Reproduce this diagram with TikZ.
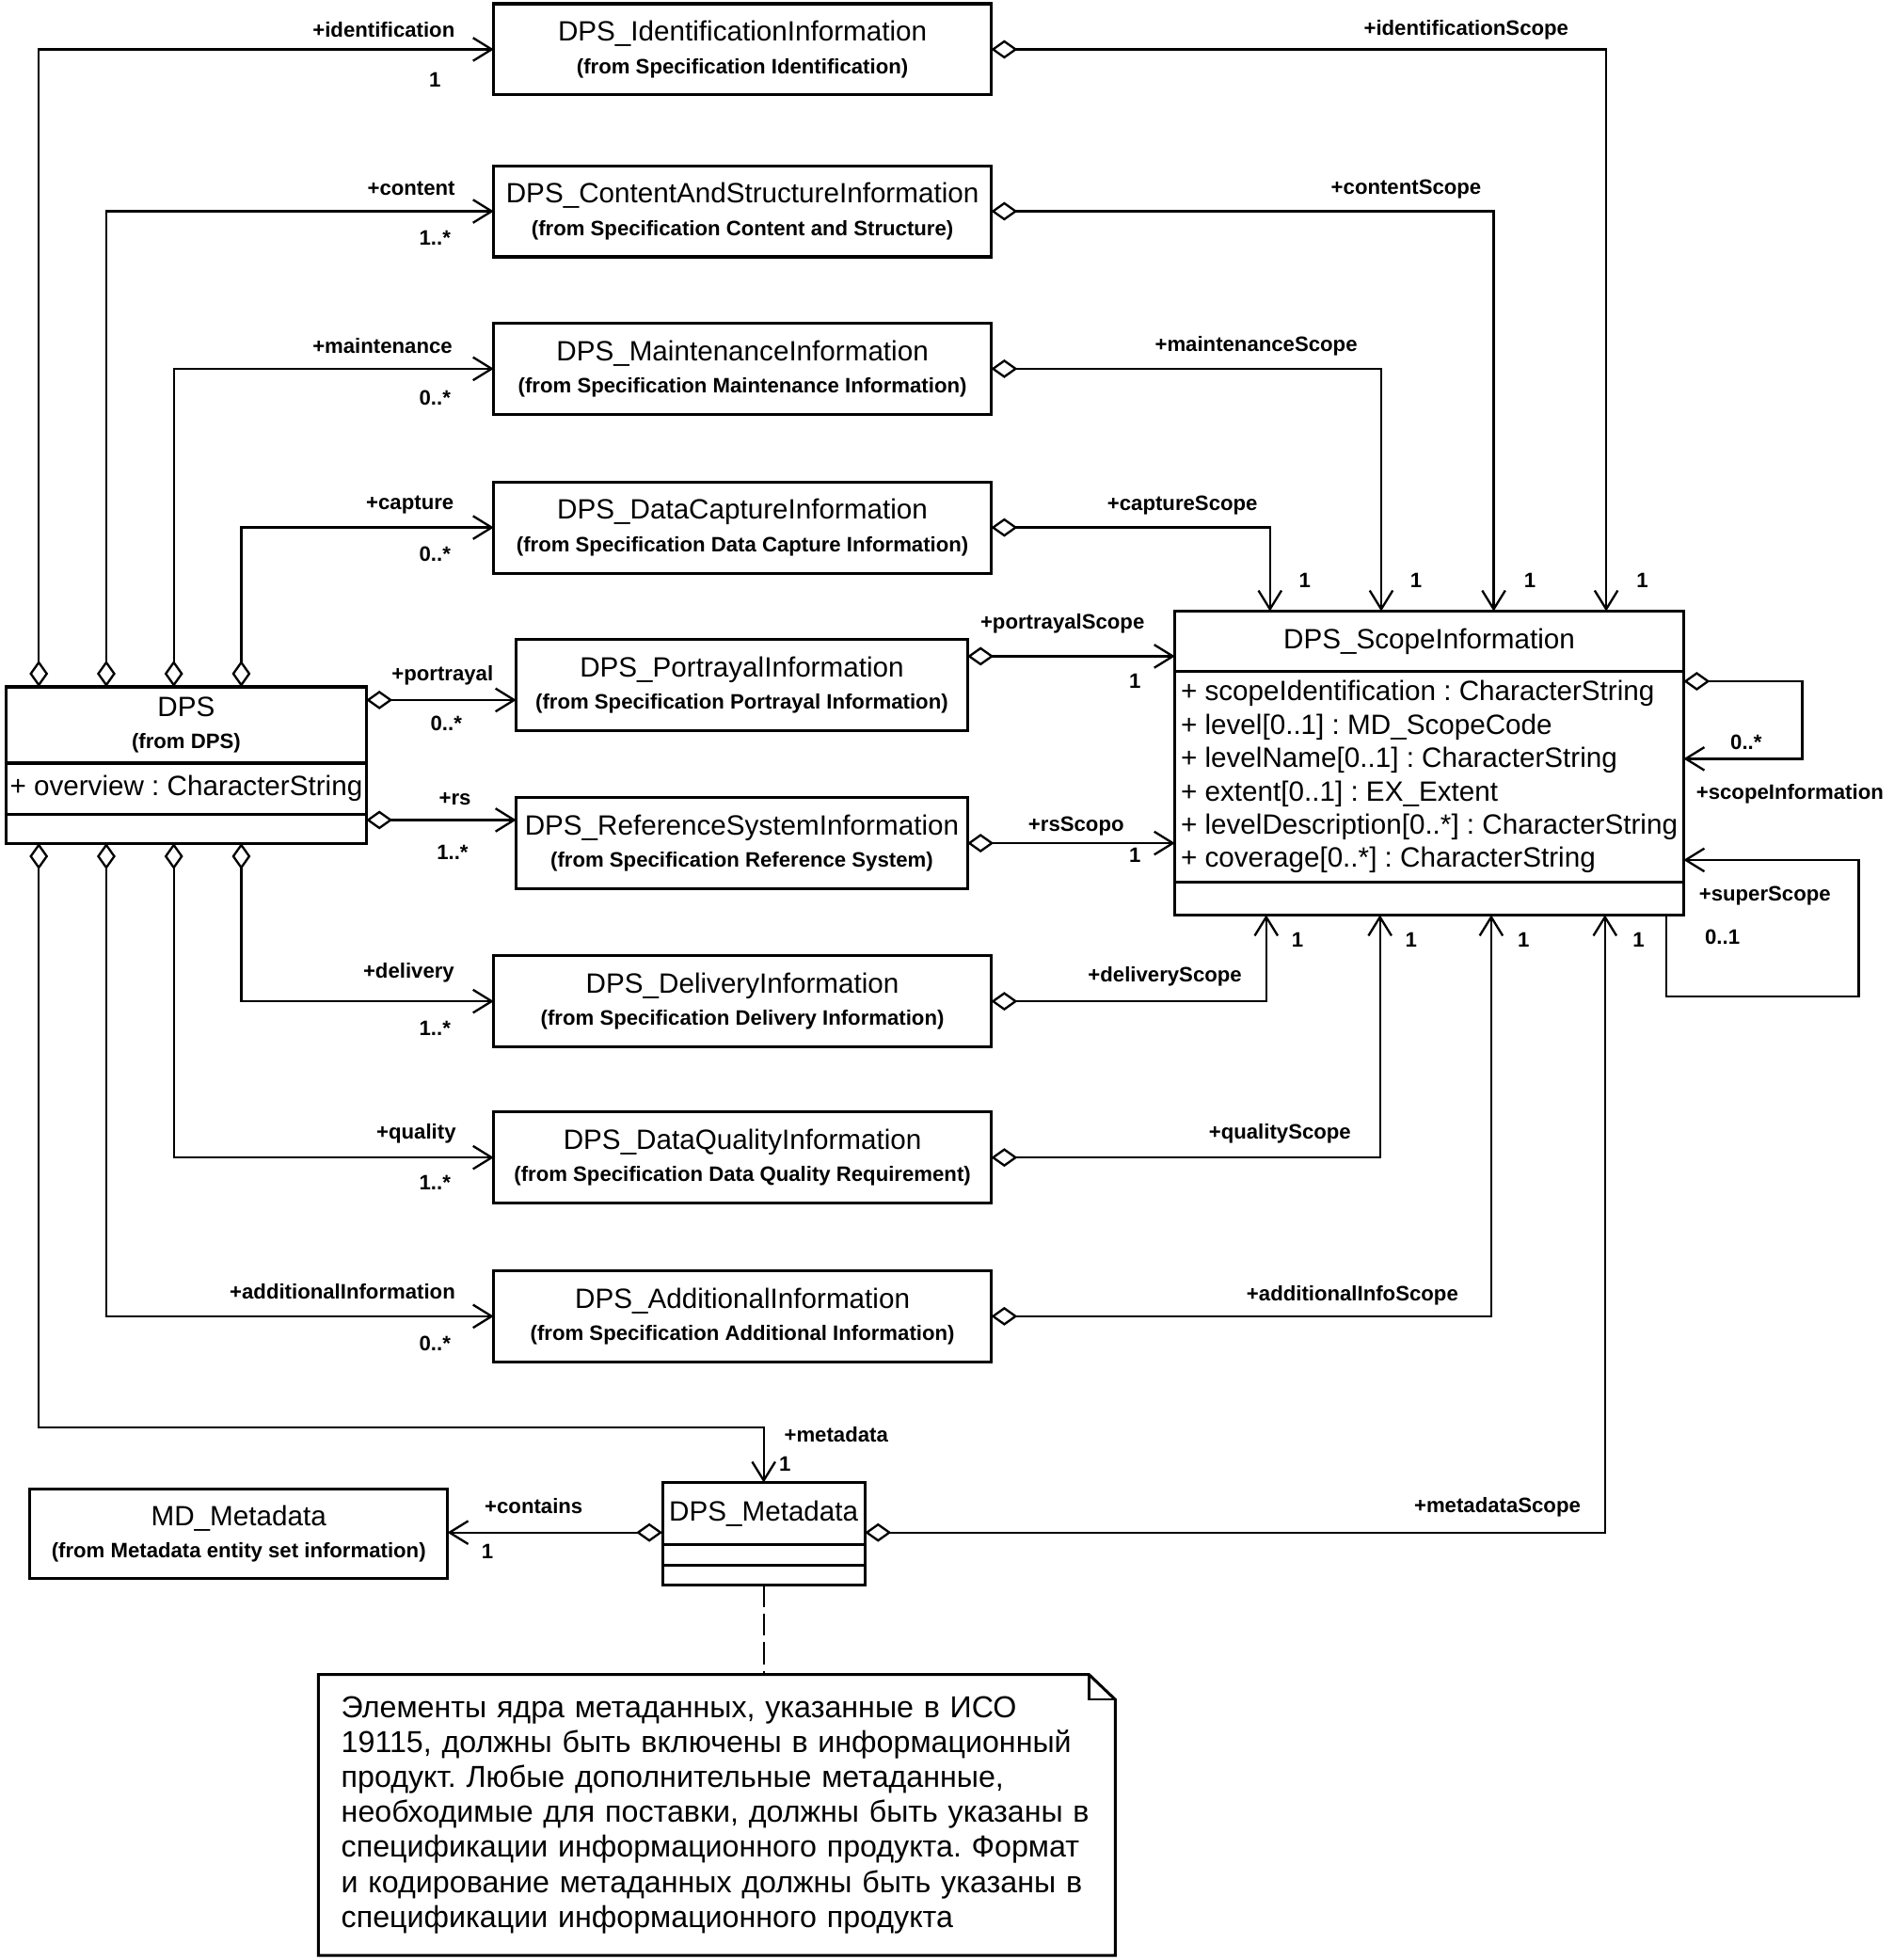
\documentclass[tikz,border=0pt]{standalone}
\usepackage{fontspec}
\setmainfont{Liberation Sans}
\usetikzlibrary{arrows.meta,calc,positioning}

\newcommand{\fromspec}[1]{{\fontsize{9.5}{11}\selectfont\bfseries #1}}

\begin{document}
\frenchspacing
\begin{tikzpicture}[x=0.02cm,y=-0.02cm,
    every node/.style={font=\fontsize{12.7}{14.8}\selectfont},
    cls/.style={draw,line width=1.3pt,align=center,inner sep=0pt,outer sep=0pt,minimum width=7.96cm,minimum height=1.46cm},
    comp/.style={draw,line width=1.3pt,align=left,inner sep=0pt,outer sep=0pt,font=\fontsize{12.7}{15.2}\selectfont},
    lbl/.style={font=\fontsize{9.5}{11}\selectfont\bfseries,inner sep=1pt},
    agg/.style={line width=1pt,arrows={Diamond[open,length=12pt,width=8.5pt]-Straight Barb[length=8.5pt,width=10.5pt]}},
    nav/.style={line width=1pt,arrows={-Straight Barb[length=8.5pt,width=10.5pt]}}]
  \useasboundingbox (0,0) rectangle (1515,1568);

  \node[cls] (ident) at (594,39.5) {DPS\_IdentificationInformation\\\fromspec{(from Specification Identification)}};
  \node[cls] (content) at (594,169) {DPS\_ContentAndStructureInformation\\\fromspec{(from Specification Content and Structure)}};
  \node[cls] (maint) at (594,295) {DPS\_MaintenanceInformation\\\fromspec{(from Specification Maintenance Information)}};
  \node[cls] (capture) at (594,422) {DPS\_DataCaptureInformation\\\fromspec{(from Specification Data Capture Information)}};
  \node[cls,minimum width=7.22cm] (portr) at (593.5,548) {DPS\_PortrayalInformation\\\fromspec{(from Specification Portrayal Information)}};
  \node[cls,minimum width=7.22cm] (refsys) at (593.5,674.5) {DPS\_ReferenceSystemInformation\\\fromspec{(from Specification Reference System)}};
  \node[cls] (deliv) at (594,801) {DPS\_DeliveryInformation\\\fromspec{(from Specification Delivery Information)}};
  \node[cls] (quality) at (594,926) {DPS\_DataQualityInformation\\\fromspec{(from Specification Data Quality Requirement)}};
  \node[cls] (addinfo) at (594,1053) {DPS\_AdditionalInformation\\\fromspec{(from Specification Additional Information)}};

  \node[cls,minimum width=5.76cm,minimum height=1.22cm] (dpsT) at (149,580) {DPS\\\fromspec{(from DPS)}};
  \node[comp,minimum width=5.76cm,minimum height=0.82cm,below=0pt of dpsT] (dpsA) {+ overview : CharacterString};
  \node[comp,minimum width=5.76cm,minimum height=0.46cm,below=0pt of dpsA] (dpsO) {};

  \node[cls,minimum width=8.14cm,minimum height=0.96cm] (scT) at (1143.5,513) {DPS\_ScopeInformation};
  \node[comp,minimum width=8.14cm,minimum height=3.38cm,below=0pt of scT] (scA) {+ scopeIdentification : CharacterString\\+ level[0..1] : MD\_ScopeCode\\+ levelName[0..1] : CharacterString\\+ extent[0..1] : EX\_Extent\\+ levelDescription[0..*] : CharacterString\\+ coverage[0..*] : CharacterString};
  \node[comp,minimum width=8.14cm,minimum height=0.52cm,below=0pt of scA] (scO) {};

  \node[cls,minimum width=3.24cm,minimum height=1cm] (dpsmT) at (611,1211) {DPS\_Metadata};
  \node[comp,minimum width=3.24cm,minimum height=0.32cm,below=0pt of dpsmT] (dpsmA) {};
  \node[comp,minimum width=3.24cm,minimum height=0.32cm,below=0pt of dpsmA] (dpsmO) {};

  \node[cls,minimum width=6.68cm,minimum height=1.44cm] (mdmeta) at (191,1227) {MD\_Metadata\\\fromspec{(from Metadata entity set information)}};

  \node[align=left,inner xsep=0.36cm,inner ysep=0pt,text width=12.02cm,minimum height=4.48cm,font=\fontsize{13.8}{15.9}\selectfont] (note) at (573.5,1452) {Элементы ядра метаданных, указанные в ИСО\\19115, должны быть включены в информационный\\продукт. Любые дополнительные метаданные,\\необходимые для поставки, должны быть указаны в\\спецификации информационного продукта. Формат\\и кодирование метаданных должны быть указаны в\\спецификации информационного продукта};
  \draw[line width=1.3pt] (note.north west) -- ($(note.north east)+(-21,0)$) -- ($(note.north east)+(0,20)$) -- (note.south east) -- (note.south west) -- cycle;
  \draw[line width=1pt] ($(note.north east)+(-21,0)$) |- ($(note.north east)+(0,20)$);
  \draw[line width=0.8pt,dash pattern=on 10pt off 3pt] (dpsmO.south) -- (dpsmO.south |- note.north);

  \coordinate (dt1) at ($(dpsT.north west)+(26,0)$);
  \coordinate (dt2) at ($(dpsT.north west)+(80,0)$);
  \coordinate (dt3) at ($(dpsT.north west)+(134,0)$);
  \coordinate (dt4) at ($(dpsT.north west)+(188,0)$);
  \coordinate (db1) at ($(dpsO.south west)+(26,0)$);
  \coordinate (db2) at ($(dpsO.south west)+(80,0)$);
  \coordinate (db3) at ($(dpsO.south west)+(134,0)$);
  \coordinate (db4) at ($(dpsO.south west)+(188,0)$);
  \coordinate (st1) at ($(scT.north west)+(76,0)$);
  \coordinate (st2) at ($(scT.north west)+(165,0)$);
  \coordinate (st3) at ($(scT.north west)+(255,0)$);
  \coordinate (st4) at ($(scT.north west)+(345,0)$);
  \coordinate (sb1) at ($(scO.south west)+(73,0)$);
  \coordinate (sb2) at ($(scO.south west)+(164,0)$);
  \coordinate (sb3) at ($(scO.south west)+(253,0)$);
  \coordinate (sb4) at ($(scO.south west)+(344,0)$);
  \coordinate (pIn) at ($(portr.west)+(0,12)$);
  \coordinate (pOut) at ($(portr.east)+(0,-23)$);
  \coordinate (rIn) at ($(refsys.west)+(0,-18.5)$);
  \coordinate (mIn) at ($(dpsmT.north)+(0,-44)$);
  \coordinate (mOut) at ($(dpsmT.south west)+(0,-10)$);
  \coordinate (mOut2) at ($(dpsmT.south east)+(0,-10)$);

  \draw[agg] (dt1) |- (ident.west);
  \draw[agg] (dt2) |- (content.west);
  \draw[agg] (dt3) |- (maint.west);
  \draw[agg] (dt4) |- (capture.west);
  \draw[agg] (pIn -| dpsT.east) -- (pIn);
  \draw[agg] (rIn -| dpsO.east) -- (rIn);
  \draw[agg] (db4) |- (deliv.west);
  \draw[agg] (db3) |- (quality.west);
  \draw[agg] (db2) |- (addinfo.west);
  \draw[agg] (db1) |- (mIn) -- (dpsmT.north);
  \draw[agg] (mOut) -- (mOut -| mdmeta.east);

  \draw[agg] (ident.east) -| (st4);
  \draw[agg] (content.east) -| (st3);
  \draw[agg] (maint.east) -| (st2);
  \draw[agg] (capture.east) -| (st1);
  \draw[agg] (pOut) -- (pOut -| scT.west);
  \draw[agg] (refsys.east) -- (refsys.east -| scA.west);
  \draw[agg] (deliv.east) -| (sb1);
  \draw[agg] (quality.east) -| (sb2);
  \draw[agg] (addinfo.east) -| (sb3);
  \draw[agg] (mOut2) -| (sb4);
  \draw[agg] ($(scA.north east)+(0,8)$) -| ++(95,62) -- ++(-95,0);
  \draw[nav] ($(scO.south east)+(-14,0)$) |- ++(154,65) |- ($(scA.south east)+(0,-18)$);

  \node[lbl] (lIdent) at (307,24) {+identification};
  \node[lbl] (mIdent) at (348,64) {1};
  \node[lbl] (lContent) at (329,151) {+content};
  \node[lbl] (mContent) at (348,190) {1..*};
  \node[lbl] (lMaint) at (306,277) {+maintenance};
  \node[lbl] (mMaint) at (348,318) {0..*};
  \node[lbl] (lCapture) at (328,404) {+capture};
  \node[lbl] (mCapture) at (348,443) {0..*};
  \node[lbl] (lPortr) at (354,540) {+portrayal};
  \node[lbl] (mPortr) at (357,579) {0..*};
  \node[lbl] (lRs) at (364,639) {+rs};
  \node[lbl] (mRs) at (362,682) {1..*};
  \node[lbl] (lDeliv) at (327,778) {+delivery};
  \node[lbl] (mDeliv) at (348,823) {1..*};
  \node[lbl] (lQuality) at (333,907) {+quality};
  \node[lbl] (mQuality) at (348,946) {1..*};
  \node[lbl] (lAddinfo) at (274,1033) {+additionalInformation};
  \node[lbl] (mAddinfo) at (348,1075) {0..*};
  \node[lbl] (lMeta) at (669,1148) {+metadata};
  \node[lbl] (mMeta) at (628,1171) {1};
  \node[lbl] (lContains) at (427,1205) {+contains};
  \node[lbl] (mContains) at (390,1241) {1};

  \node[lbl] (lIdentSc) at (1173,24) {+identificationScope};
  \node[lbl] (lContentSc) at (1125,151) {+contentScope};
  \node[lbl] (lMaintSc) at (1005,277) {+maintenanceScope};
  \node[lbl] (lCaptureSc) at (946,404) {+captureScope};
  \node[lbl] (mSt1) at (1044,464) {1};
  \node[lbl] (mSt2) at (1133,464) {1};
  \node[lbl] (mSt3) at (1224,464) {1};
  \node[lbl] (mSt4) at (1314,464) {1};
  \node[lbl] (lPortrSc) at (850,499) {+portrayalScope};
  \node[lbl] (mPortrSc) at (908,545) {1};
  \node[lbl] (lRsSc) at (861,661) {+rsScopo};
  \node[lbl] (mRsSc) at (908,684) {1};
  \node[lbl] (lDelivSc) at (932,781) {+deliveryScope};
  \node[lbl] (lQualitySc) at (1024,907) {+qualityScope};
  \node[lbl] (lAddinfoSc) at (1082,1036) {+additionalInfoScope};
  \node[lbl] (lMetaSc) at (1198,1206) {+metadataScope};
  \node[lbl] (mSb1) at (1038,752) {1};
  \node[lbl] (mSb2) at (1129,752) {1};
  \node[lbl] (mSb3) at (1219,752) {1};
  \node[lbl] (mSb4) at (1311,752) {1};
  \node[lbl] (mScInfo) at (1397,594) {0..*};
  \node[lbl] (lScInfo) at (1432,635) {+scopeInformation};
  \node[lbl] (lSuper) at (1412,717) {+superScope};
  \node[lbl] (mSuper) at (1378,750) {0..1};
\end{tikzpicture}
\end{document}
